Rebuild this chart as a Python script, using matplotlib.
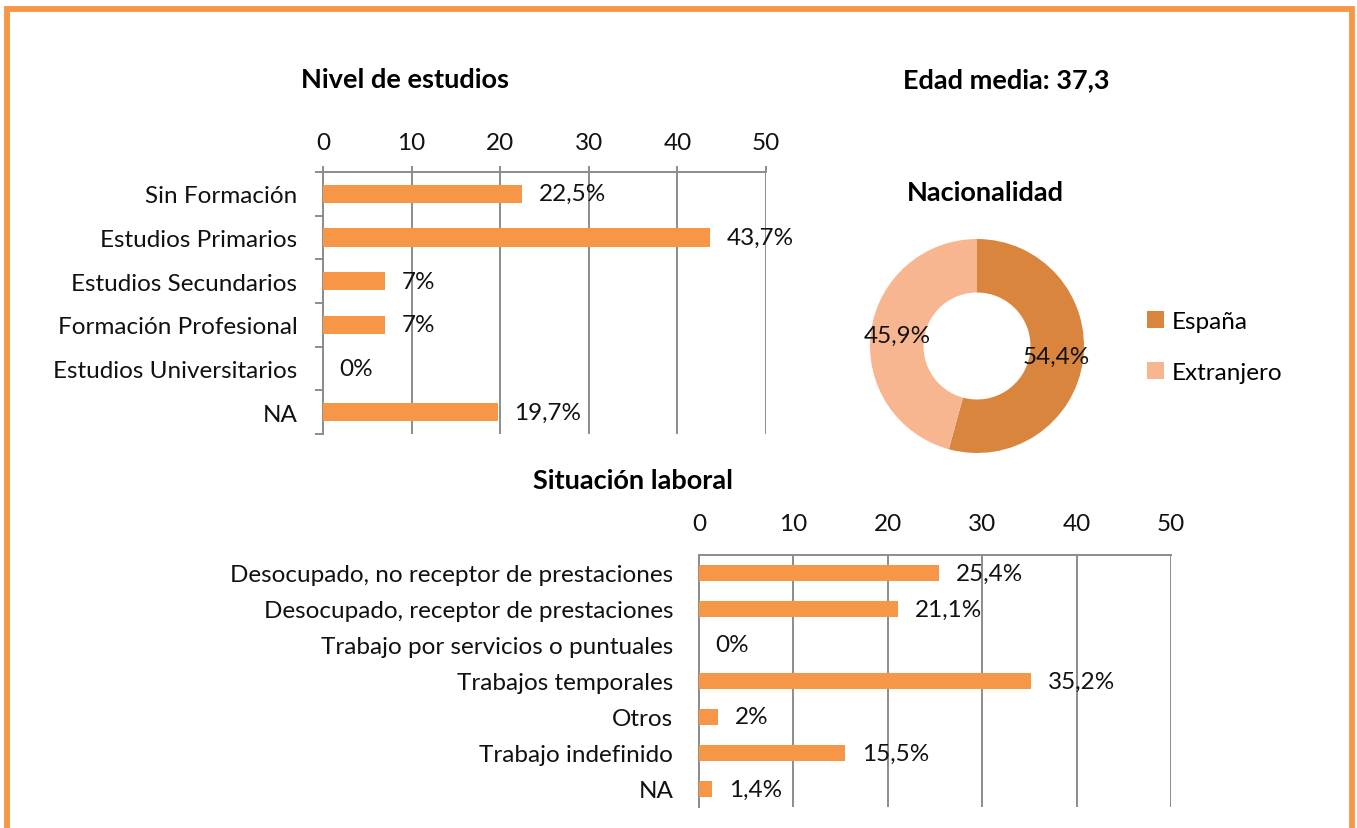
import matplotlib
matplotlib.use("Agg")
import matplotlib.pyplot as plt
from matplotlib.patches import Rectangle

plt.rcParams['font.family'] = ['Lato', 'DejaVu Sans']

# Nivel de estudios
estudios_cat = ["Sin Formación", "Estudios Primarios", "Estudios Secundarios",
                "Formación Profesional", "Estudios Universitarios", "NA"]
estudios_val = [22.5, 43.7, 7, 7, 0, 19.7]
estudios_lab = ["22,5%", "43,7%", "7%", "7%", "0%", "19,7%"]

# Situacion laboral
laboral_cat = ["Desocupado, no receptor de prestaciones", "Desocupado, receptor de prestaciones",
               "Trabajo por servicios o puntuales", "Trabajos temporales", "Otros",
               "Trabajo indefinido", "NA"]
laboral_val = [25.4, 21.1, 0, 35.2, 2, 15.5, 1.4]
laboral_lab = ["25,4%", "21,1%", "0%", "35,2%", "2%", "15,5%", "1,4%"]

# Nacionalidad
nac_cat = ["España", "Extranjero"]
nac_val = [54.4, 45.9]
nac_lab = ["54,4%", "45,9%"]

x_ticks = [0, 10, 20, 30, 40, 50]

W, H = 1357, 829
BAR = "#F79646"
GRID = "#8C8C8C"
FS = 17.5
TFS = 19.5
TXT = "#111111"

fig = plt.figure(figsize=(W / 100, H / 100), dpi=100)


def px_axes(x0, y0, x1, y1):
    # pixel box (top-left origin) -> figure axes
    return fig.add_axes([x0 / W, 1 - y1 / H, (x1 - x0) / W, (y1 - y0) / H])


def hbar(ax, cats, vals, labs, left_ticks):
    n = len(cats)
    y = list(range(n))
    bars = ax.barh(y, vals, height=0.42, color=BAR, zorder=3)
    ax.bar_label(bars, labels=labs, padding=12, fontsize=FS, color=TXT)
    ax.set_xlim(0, 50)
    ax.set_ylim(n - 0.5, -0.5)
    ax.set_xticks(x_ticks)
    ax.xaxis.tick_top()
    ax.grid(axis="x", color=GRID, linewidth=1.4, zorder=0)
    for s in ["right", "bottom"]:
        ax.spines[s].set_visible(False)
    for s in ["top", "left"]:
        ax.spines[s].set_color(GRID)
        ax.spines[s].set_linewidth(1.4)
    ax.set_yticks(y)
    ax.set_yticklabels(cats, fontsize=FS, color=TXT)
    ax.tick_params(axis="y", length=0, pad=18.5)
    if left_ticks:
        ax.set_yticks([i - 0.5 for i in range(n + 1)], minor=True)
        ax.tick_params(axis="y", which="minor", length=6, width=1.4, color=GRID)
        ax.tick_params(axis="x", length=4.5, width=1.4, color=GRID, pad=9, labelsize=FS,
                       labelcolor=TXT)
    else:
        ax.tick_params(axis="x", length=0, pad=15, labelsize=FS, labelcolor=TXT)


ax1 = px_axes(323, 173, 766, 435)
hbar(ax1, estudios_cat, estudios_val, estudios_lab, True)

ax2 = px_axes(699, 556, 1171, 808)
hbar(ax2, laboral_cat, laboral_val, laboral_lab, False)

# donut
ax3 = px_axes(977 - 107, 347 - 107, 977 + 107, 347 + 107)
wedges, texts = ax3.pie(nac_val, labels=nac_lab, colors=["#D9853E", "#F8B690"],
                        startangle=90, counterclock=False, radius=1,
                        labeldistance=0.75, wedgeprops=dict(width=0.5, linewidth=0),
                        textprops=dict(fontsize=FS, color=TXT, ha="center", va="center"))
ax3.set_xlim(-1, 1)
ax3.set_ylim(-1, 1)
ax3.set_aspect("equal")
ax3.axis("off")

fig.legend(wedges, nac_cat, loc="center left", bbox_to_anchor=(1147 / W, 1 - 348 / H),
           frameon=False, fontsize=FS, handlelength=0.7, handleheight=0.7,
           handletextpad=0.3, labelspacing=1.2, borderpad=0, borderaxespad=0)

# titles
fig.text(405 / W, 1 - 80 / H, "Nivel de estudios", ha="center", va="center",
         fontsize=TFS, fontweight="bold")
fig.text(1006 / W, 1 - 80 / H, "Edad media: 37,3", ha="center", va="center",
         fontsize=TFS, fontweight="bold")
fig.text(985 / W, 1 - 193 / H, "Nacionalidad", ha="center", va="center",
         fontsize=TFS, fontweight="bold")
fig.text(633 / W, 1 - 481 / H, "Situación laboral", ha="center", va="center",
         fontsize=TFS, fontweight="bold")

# orange frame
fig.patches.append(Rectangle((7 / W, -10 / H), (1352 - 7) / W, (H + 10 - 9.5) / H,
                             transform=fig.transFigure, fill=False,
                             edgecolor=BAR, linewidth=4.2))

fig.savefig("out.png", dpi=100)
